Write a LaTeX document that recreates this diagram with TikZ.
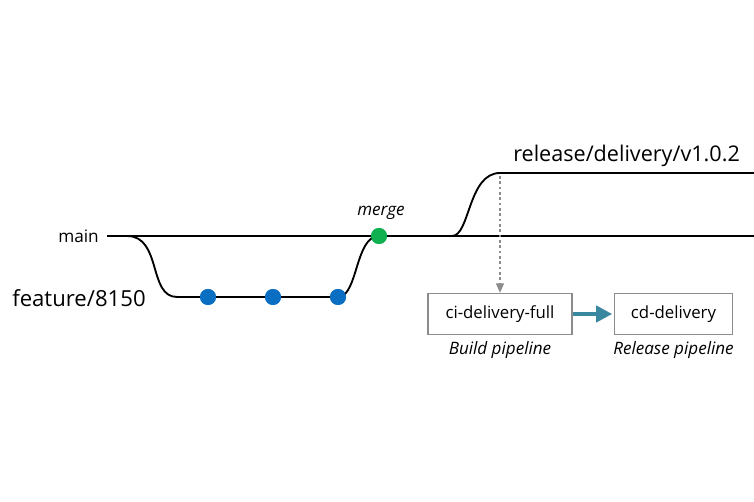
\documentclass[tikz,border=0pt]{standalone}
\usepackage{fontspec}
\setmainfont{Open Sans}
\usetikzlibrary{arrows.meta}
\definecolor{dotblue}{HTML}{0A6FC2}
\definecolor{dotgreen}{HTML}{10B050}
\definecolor{teal}{HTML}{3A87A0}
\definecolor{boxgray}{HTML}{8C8C8C}
\begin{document}
\begin{tikzpicture}[x=0.75pt,y=-0.75pt,
  branch/.style={line width=1.4pt, black},
  commit/.style={circle, fill=dotblue, minimum size=12pt, inner sep=0pt},
  mergedot/.style={circle, fill=dotgreen, minimum size=12pt, inner sep=0pt},
  pipebox/.style={draw=boxgray, line width=0.9pt, minimum width=108pt, minimum height=31pt, inner sep=0pt, font=\fontsize{12.6pt}{14pt}\selectfont},
  caption/.style={font=\itshape\fontsize{12.8pt}{14pt}\selectfont},
  lbl/.style={inner sep=0pt}]
\useasboundingbox (0,0) rectangle (754,502);
% coordinates
\coordinate (m0) at (107,236);
\coordinate (mend) at (754,236);
\coordinate (fb) at (127,236);
\coordinate (rb) at (452,236);
\coordinate (rtop) at (500,173);
\coordinate (rend) at (754,173);
% labels
\node[lbl, anchor=east, font=\fontsize{12.9pt}{14pt}\selectfont] (mainlbl) at (99,236) {main};
\node[lbl, anchor=west, font=\fontsize{16.6pt}{19pt}\selectfont] (featlbl) at (12,298) {feature/8150};
\node[lbl, anchor=west, font=\fontsize{16.2pt}{19pt}\selectfont] (rellbl) at (513,156) {release/delivery/v1.0.2};
% commits
\node[commit] (c1) at (208,297) {};
\node[commit] (c2) at (273,297) {};
\node[commit] (c3) at (338,297) {};
\node[mergedot] (mg) at (379,236) {};
\node[caption] (mglbl) at (381,213) {merge};
% main line
\draw[branch] (m0) -- (mend);
% feature branch
\draw[branch] (fb) .. controls (162,236) and (148,297) .. (177,297) -- (c1.center) -- (c2.center) -- (c3.center)
  .. controls (358,297) and (355,236) .. (mg.center);
% release branch
\draw[branch] (rb) .. controls (470,236) and (468,173) .. (rtop) -- (rend);
% pipelines
\node[pipebox] (ci) at (500,314) {ci-delivery-full};
\node[pipebox, minimum width=89pt] (cd) at (673.5,314) {cd-delivery};
\node[caption] (cilbl) at (500,350) {Build pipeline};
\node[caption] (cdlbl) at (673.5,350) {Release pipeline};
\coordinate (dstart) at (500,176);
\draw[boxgray, line width=0.9pt, dash pattern=on 2pt off 2pt, -{Triangle[length=7pt,width=6pt]}] (dstart) -- (ci.north);
\draw[teal, line width=3.2pt, -{Triangle[length=12pt,width=12pt]}] (ci.east) -- ([xshift=-1pt]cd.west);
% redraw dots on top
\node[commit] at (c1) {};
\node[commit] at (c2) {};
\node[commit] at (c3) {};
\node[mergedot] at (mg) {};
\end{tikzpicture}
\end{document}
